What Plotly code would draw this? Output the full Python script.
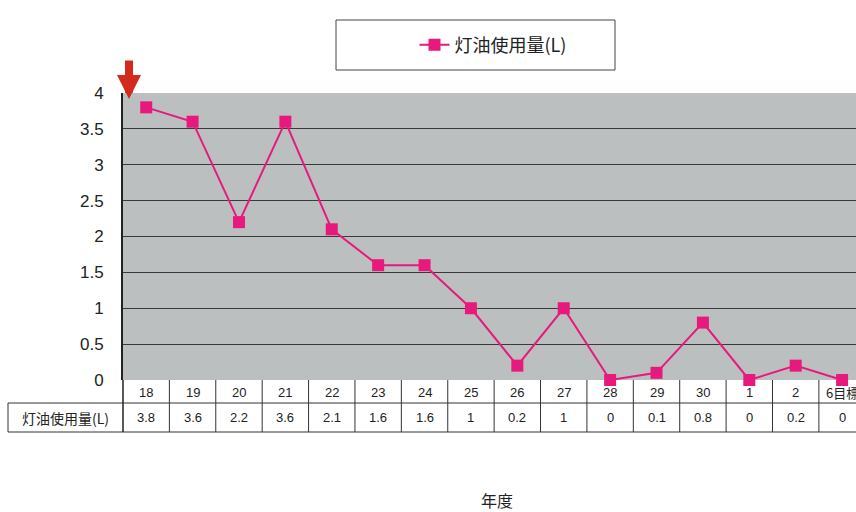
import plotly.graph_objects as go

years = ["18", "19", "20", "21", "22", "23", "24", "25", "26", "27", "28", "29", "30", "1", "2", "6目標"]
usage = [3.8, 3.6, 2.2, 3.6, 2.1, 1.6, 1.6, 1, 0.2, 1, 0, 0.1, 0.8, 0, 0.2, 0]
series_name = "灯油使用量(L)"
x_title = "年度"

W, H = 856, 512
L, R, T, B = 123, 0, 93, 132
pw, ph = W - L - R, H - T - B

def px_x(px):
    return (px - L) / pw

def px_y(py):
    return (H - B - py) / ph

line_color = "#e8197d"
jp_font = "Noto Sans CJK JP, sans-serif"
num_font = "Liberation Sans, Arial, sans-serif"

idx = list(range(len(years)))

fig = go.Figure()
fig.add_trace(go.Scatter(
    x=idx, y=usage, mode="lines+markers", name=series_name,
    line=dict(color=line_color, width=2),
    marker=dict(symbol="square", size=12, color=line_color),
    cliponaxis=False,
))

shapes = []
annotations = []

row1_top, row1_bot, row2_bot = 380, 403, 432
line_style = dict(color="#333", width=1)
# horizontal table lines
shapes.append(dict(type="line", xref="paper", yref="paper", x0=px_x(8), x1=1.02,
                   y0=px_y(row1_bot), y1=px_y(row1_bot), line=line_style))
shapes.append(dict(type="line", xref="paper", yref="paper", x0=px_x(8), x1=1.02,
                   y0=px_y(row2_bot), y1=px_y(row2_bot), line=line_style))
# row-label cell left border
shapes.append(dict(type="line", xref="paper", yref="paper", x0=px_x(8), x1=px_x(8),
                   y0=px_y(row1_bot), y1=px_y(row2_bot), line=line_style))
shapes.append(dict(type="line", xref="paper", yref="paper", x0=0, x1=0,
                   y0=0, y1=px_y(row2_bot), line=dict(color="#222", width=1.5)))
# vertical category boundaries
for i in idx:
    shapes.append(dict(type="line", xref="x", yref="paper", x0=i + 0.5, x1=i + 0.5,
                       y0=0, y1=px_y(row2_bot), line=line_style))
# category labels and values
for i, (cat, val) in enumerate(zip(years, usage)):
    annotations.append(dict(xref="x", yref="paper", x=i, y=px_y((row1_top + row1_bot) / 2 + 1),
                            xanchor="center", yanchor="middle", text=cat, showarrow=False,
                            font=dict(family=num_font if cat.isdigit() else jp_font, size=13, color="#222")))
    annotations.append(dict(xref="x", yref="paper", x=i, y=px_y((row1_bot + row2_bot) / 2),
                            xanchor="center", yanchor="middle", text=f"{val:g}", showarrow=False,
                            font=dict(family=num_font, size=13, color="#222")))
annotations.append(dict(xref="paper", yref="paper", x=px_x(65), y=px_y((row1_bot + row2_bot) / 2),
                        xanchor="center", yanchor="middle", text=series_name, showarrow=False,
                        font=dict(family=jp_font, size=14, color="#222")))
# axis title
annotations.append(dict(xref="paper", yref="paper", x=px_x(497), y=px_y(500),
                        xanchor="center", yanchor="middle", text=x_title, showarrow=False,
                        font=dict(family=jp_font, size=16, color="#222")))
# red arrow
annotations.append(dict(xref="paper", yref="paper", x=px_x(129), y=px_y(99),
                        ax=0, ay=-40, text="", showarrow=True, arrowhead=2,
                        arrowsize=0.6, arrowwidth=8, arrowcolor="#d32a1e"))
# legend box
shapes.append(dict(type="rect", xref="paper", yref="paper", x0=px_x(336), x1=px_x(615),
                   y0=px_y(70), y1=px_y(20), line=dict(color="#444", width=1),
                   fillcolor="rgba(0,0,0,0)"))

fig.update_layout(
    width=W, height=H,
    margin=dict(l=L, r=R, t=T, b=B),
    paper_bgcolor="white",
    plot_bgcolor="#bcbfbf",
    showlegend=True,
    legend=dict(orientation="h", x=px_x(493), xanchor="center", y=px_y(45), yanchor="middle",
                bgcolor="rgba(0,0,0,0)", borderwidth=0,
                font=dict(family=jp_font, size=18, color="#222")),
    shapes=shapes,
    annotations=annotations,
    xaxis=dict(range=[-0.5, len(years) - 0.7], showticklabels=False,
               showgrid=False, zeroline=False, showline=False, ticks=""),
    yaxis=dict(range=[0, 4], dtick=0.5, showgrid=True, gridcolor="#3a3a3a", gridwidth=1,
               zeroline=False, showline=True, linecolor="#222", linewidth=2, ticks="",
               ticklabelstandoff=14,
               tickfont=dict(family=num_font, size=17, color="#222")),
)

fig.write_html("out.html")
